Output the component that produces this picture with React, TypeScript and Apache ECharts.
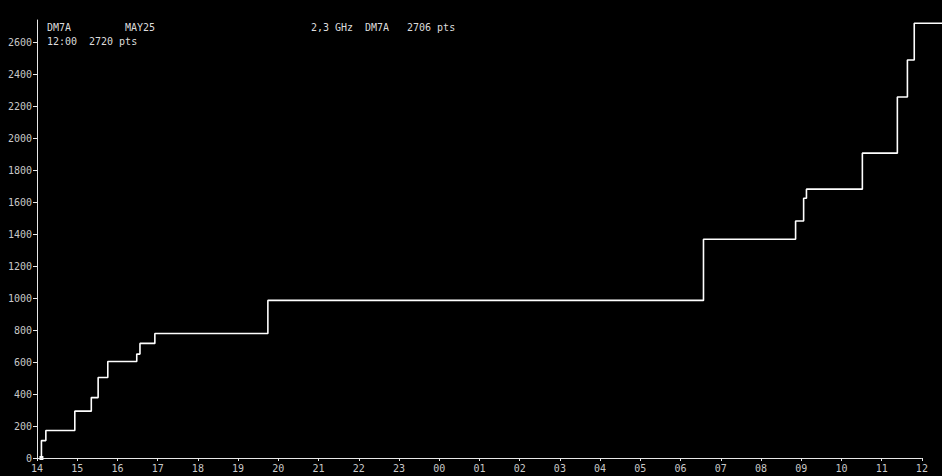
import React, { useEffect, useRef } from 'react';
import * as echarts from 'echarts';

// hours since 14:00 at which the score changed, and the score after it
const stepHours = [0.11, 0.11, 0.22, 0.94, 1.35, 1.52, 1.76, 2.48, 2.56, 2.93, 5.74, 16.57, 18.86, 19.06, 19.13, 20.52, 21.39, 21.64, 21.81, 22.5];
const stepPoints = [0, 109, 172, 293, 378, 504, 604, 650, 717, 779, 986, 1368, 1483, 1625, 1682, 1907, 2258, 2490, 2720, 2720];

const hourLabels = ['14', '15', '16', '17', '18', '19', '20', '21', '22', '23', '00', '01', '02', '03', '04', '05', '06', '07', '08', '09', '10', '11', '12'];
const pointTicks = [0, 200, 400, 600, 800, 1000, 1200, 1400, 1600, 1800, 2000, 2200, 2400, 2600];

const headerLeft = ['DM7A', 'MAY25'];
const headerSub = ['12:00', '2720 pts'];
const headerRight = ['2,3 GHz', 'DM7A', '2706 pts'];

const FONT = '"DejaVu Sans Mono", monospace';

const App: React.FC = () => {
  const chartRef = useRef<HTMLDivElement>(null);

  useEffect(() => {
    document.body.style.margin = '0';
    document.body.style.background = '#000';
    const chart = echarts.init(chartRef.current!, undefined, { renderer: 'svg' });

    const hourTicks = hourLabels.map((_, i) => i);
    const text = (t: string, x: number, y: number) => ({
      type: 'text',
      x,
      y,
      style: { text: t, fill: '#dcdcdc', font: `10px ${FONT}`, textVerticalAlign: 'middle' },
    });

    const option = {
      animation: false,
      backgroundColor: '#000',
      grid: { left: 37, right: 0, top: 20, bottom: 18, containLabel: false },
      xAxis: {
        type: 'value',
        min: 0,
        max: 22.5,
        axisLine: { show: false },
        axisTick: { show: true, length: 3, customValues: hourTicks, lineStyle: { color: '#e8e8e8' } },
        axisLabel: {
          color: '#c8c8c8',
          fontFamily: FONT,
          fontSize: 10,
          margin: 5,
          customValues: hourTicks,
          formatter: (v: number) => hourLabels[Math.round(v)] ?? '',
        },
        splitLine: { show: false },
      },
      yAxis: {
        type: 'value',
        min: 0,
        max: 2740,
        axisLine: { show: true, lineStyle: { color: '#e8e8e8', width: 1 } },
        axisTick: { show: true, length: 4, customValues: pointTicks, lineStyle: { color: '#e8e8e8' } },
        axisLabel: {
          color: '#c8c8c8',
          fontFamily: FONT,
          fontSize: 10,
          margin: 5,
          customValues: pointTicks,
          formatter: (v: number) => String(v),
        },
        splitLine: { show: false },
      },
      graphic: [
        text(headerLeft[0], 47, 27),
        text(headerLeft[1], 125, 27),
        text(headerSub[0], 47, 41),
        text(headerSub[1], 89, 41),
        text(headerRight[0], 311, 27),
        text(headerRight[1], 365, 27),
        text(headerRight[2], 407, 27),
      ],
      series: [
        {
          type: 'line',
          step: 'end',
          clip: false,
          showSymbol: true,
          symbol: 'none',
          z: 3,
          data: stepHours.map((h, i) =>
            i === 0
              ? { value: [h, stepPoints[i]], symbol: 'rect', symbolSize: 4, itemStyle: { color: '#fff' } }
              : [h, stepPoints[i]]
          ),
          lineStyle: { color: '#ffffff', width: 1.6 },
          markLine: {
            silent: true,
            symbol: 'none',
            label: { show: false },
            lineStyle: { color: '#e8e8e8', width: 1, type: 'solid' },
            data: [[{ coord: [0, 0] }, { coord: [hourTicks[hourTicks.length - 1], 0] }]],
          },
        },
      ],
    };

    chart.setOption(option as any);
    return () => chart.dispose();
  }, []);

  return (
    <div
      ref={chartRef}
      style={{ position: 'fixed', left: 0, top: 0, width: '942px', height: '476px', background: '#000' }}
    />
  );
};

export default App;
